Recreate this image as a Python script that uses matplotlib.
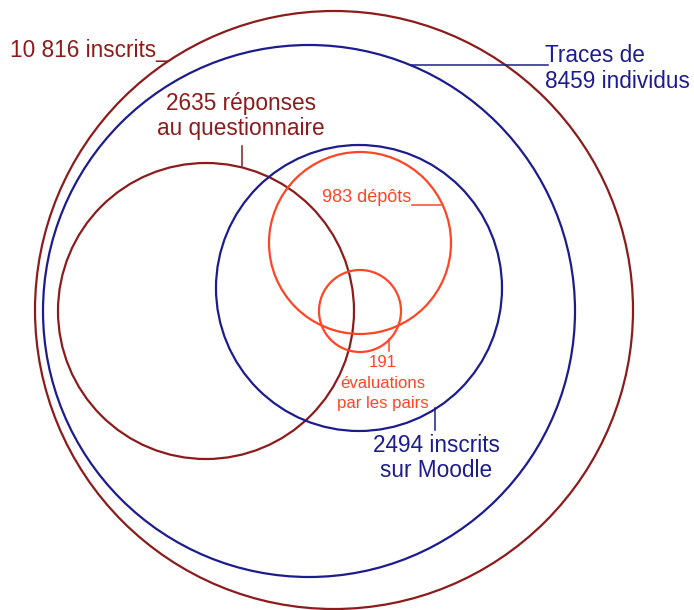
import matplotlib.pyplot as plt
from matplotlib.patches import Circle

plt.rcParams['font.family'] = ['Liberation Sans', 'DejaVu Sans']

# group labels (counts shown in the diagram)
groups = ['inscrits', 'traces', 'reponses', 'moodle', 'depots', 'evaluations']
counts = [10816, 8459, 2635, 2494, 983, 191]
labels = [
    ['10 816 inscrits_'],
    ['Traces de', '8459 individus'],
    ['2635 réponses', 'au questionnaire'],
    ['2494 inscrits', 'sur Moodle'],
    ['983 dépôts'],
    ['191', 'évaluations', 'par les pairs'],
]

# layout (pixels, y down): circle centre/radius, label anchor, alignment
centres = [(334, 310), (309, 311), (206, 311), (359, 288), (360, 243), (360, 311)]
radii = [299, 266, 148, 143, 91, 41]
label_xy = [(10, 57), (545, 62), (241, 110), (436, 452), (322, 202), (383, 367)]
label_ha = ['left', 'left', 'center', 'center', 'left', 'center']
line_gap = [0, 26, 25, 25, 0, 20.5]
font_px = [22.6, 22.6, 22.6, 22.6, 18, 16.7]

red = '#8c1c1c'
blue = '#1c1c8e'
orange = '#ff4526'
colours = [red, blue, red, blue, orange, orange]

# leader lines (x0, y0, x1, y1)
leaders = [
    None,
    (410, 65, 548, 65),
    (242, 146, 242, 166),
    (435, 408, 435, 430),
    (412, 205, 441, 205),
    (389, 339, 389, 351),
]

fig = plt.figure(figsize=(6.94, 6.10), dpi=100)
ax = fig.add_axes([0, 0, 1, 1])
ax.set_xlim(0, 694)
ax.set_ylim(610, 0)
ax.axis('off')

for i in range(len(groups)):
    ax.add_patch(Circle(centres[i], radii[i], fill=False,
                        edgecolor=colours[i], linewidth=1.6))
    if leaders[i] is not None:
        x0, y0, x1, y1 = leaders[i]
        ax.plot([x0, x1], [y0, y1], color=colours[i], linewidth=1.1)
    x, y = label_xy[i]
    for j, line in enumerate(labels[i]):
        ax.text(x, y + j * line_gap[i], line, ha=label_ha[i], va='baseline',
                color=colours[i], fontsize=font_px[i] * 0.72)

fig.savefig('out.png', dpi=100)
